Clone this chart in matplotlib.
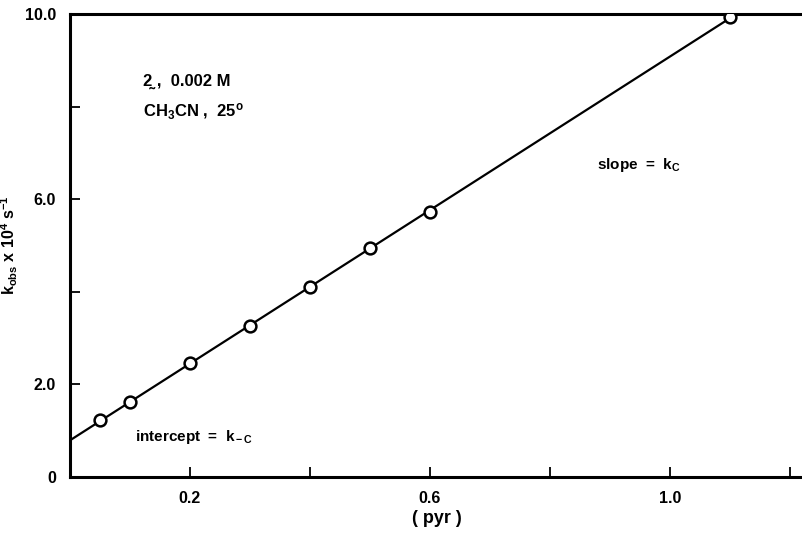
import matplotlib
matplotlib.use("Agg")
import matplotlib.pyplot as plt
import numpy as np

plt.rcParams['font.family'] = ['Liberation Sans', 'DejaVu Sans']
plt.rcParams['font.weight'] = 'bold'
plt.rcParams['axes.labelweight'] = 'bold'
plt.rcParams['mathtext.fontset'] = 'custom'
plt.rcParams['mathtext.rm'] = 'Liberation Sans:bold'
plt.rcParams['mathtext.it'] = 'Liberation Sans:bold'
plt.rcParams['mathtext.bf'] = 'Liberation Sans:bold'

# [pyr] (M) and k_obs x 10^4 (s^-1)
pyr = [0.05, 0.1, 0.2, 0.3, 0.4, 0.5, 0.6, 1.1]
kobs = [1.23, 1.62, 2.46, 3.26, 4.10, 4.95, 5.72, 9.93]

xticks = [0.2, 0.4, 0.6, 0.8, 1.0, 1.2]
xticklabels = ['0.2', '', '0.6', '', '1.0', '']
yticks = [0, 2, 4, 6, 8, 10]
yticklabels = ['0', '2.0', '', '6.0', '', '10.0']

slope, intercept = np.polyfit(pyr, kobs, 1)

fig = plt.figure(figsize=(8.03, 5.38), dpi=100)
ax = fig.add_axes([0.0872, 0.1134, 0.9128, 0.8606])

xl = np.array([0.0, 1.1])
ax.plot(xl, intercept + slope * xl, color='black', lw=1.6, zorder=2)
ax.plot(pyr, kobs, 'o', ms=8.5, mfc='white', mec='black', mew=1.8, zorder=3)

ax.set_xlim(0, 1.222)
ax.set_ylim(0, 10)
ax.set_xticks(xticks)
ax.set_xticklabels(xticklabels)
ax.set_yticks(yticks)
ax.set_yticklabels(yticklabels)
ax.tick_params(direction='in', length=7, width=1.3, labelsize=11.5, pad=10)
for s in ['left', 'bottom', 'top']:
    ax.spines[s].set_linewidth(2.2)
ax.spines['right'].set_visible(False)

ax.set_xlabel('( pyr )', fontsize=13, labelpad=3)
ax.set_ylabel(r'k$_{\rm obs}$ x 10$^{4}$ s$^{-1}$', fontsize=11.5)
ax.yaxis.set_label_coords(-0.068, 0.5)

ax.text(0.122, 8.45, '2\u0330 ,  0.002 M', fontsize=12)
ax.text(0.122, 7.78, r'CH$_3$CN ,  25$^{\rm o}$', fontsize=12)
ax.text(0.878, 6.65, r'slope  =  k$_{\rm C}$', fontsize=11)
ax.text(0.108, 0.78, r'intercept  =  k$_{\rm -C}$', fontsize=11)

fig.savefig('out.png', dpi=100)
